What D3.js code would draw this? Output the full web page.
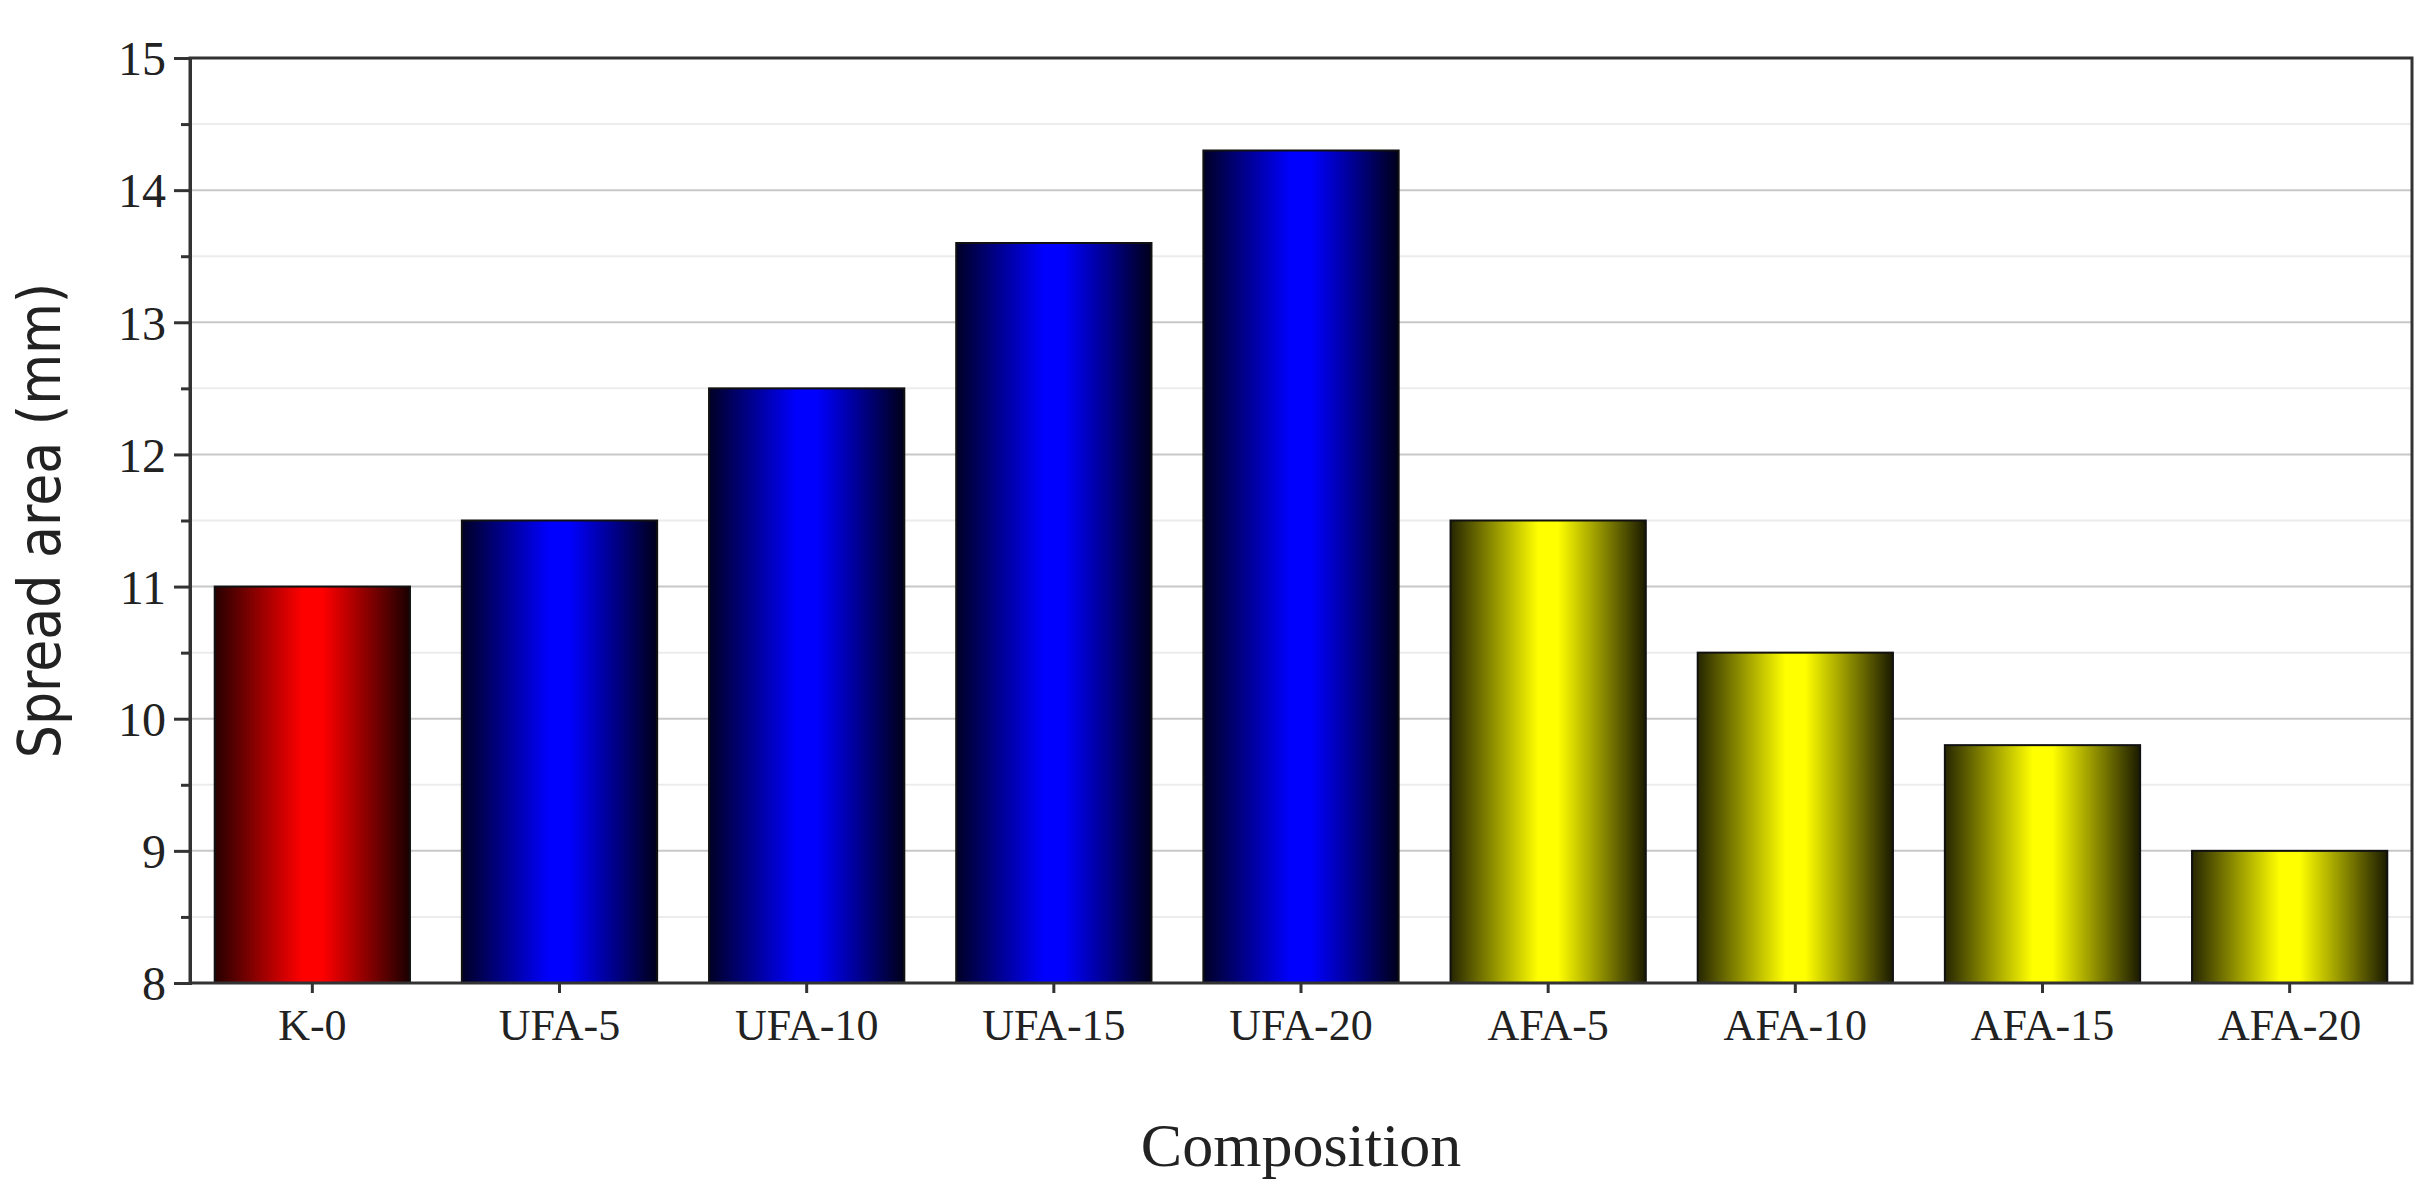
<!DOCTYPE html>
<html>
<head>
<meta charset="utf-8">
<script src="https://cdn.jsdelivr.net/npm/d3@7"></script>
<style>
  body { margin: 0; background: #fff; }
  text { font-family: "Liberation Serif", "DejaVu Serif", serif; fill: #222; }
</style>
</head>
<body>
<svg id="chart" width="2430" height="1200"></svg>
<script>
const categories = ['K-0', 'UFA-5', 'UFA-10', 'UFA-15', 'UFA-20', 'AFA-5', 'AFA-10', 'AFA-15', 'AFA-20'];
const values = [11.0, 11.5, 12.5, 13.6, 14.3, 11.5, 10.5, 9.8, 9.0];
const groups = ['red', 'blue', 'blue', 'blue', 'blue', 'yellow', 'yellow', 'yellow', 'yellow'];
const yTicks = [8, 9, 10, 11, 12, 13, 14, 15];
const yMinor = [8.5, 9.5, 10.5, 11.5, 12.5, 13.5, 14.5];

const svg = d3.select('#chart');
const margin = { top: 58, right: 18, bottom: 217, left: 190 };
const width = 2430 - margin.left - margin.right;
const height = 1200 - margin.top - margin.bottom;
const g = svg.append('g').attr('transform', `translate(${margin.left},${margin.top})`);

const x = d3.scaleBand().domain(categories).range([0, width]).paddingInner(0.21).paddingOuter(0.1);
const y = d3.scaleLinear().domain([8, 15]).range([height, 0]);

// gradients: dark edges, bright middle
const colors = { red: '#ff0000', blue: '#0000ff', yellow: '#ffff00' };
const defs = svg.append('defs');
Object.entries(colors).forEach(([k, c]) => {
  const gr = defs.append('linearGradient').attr('id', 'grad-' + k).attr('x1', 0).attr('x2', 1).attr('y1', 0).attr('y2', 0);
  gr.append('stop').attr('offset', '0%').attr('stop-color', d3.interpolateRgb('#000', c)(0.15));
  gr.append('stop').attr('offset', '45%').attr('stop-color', c);
  gr.append('stop').attr('offset', '55%').attr('stop-color', c);
  gr.append('stop').attr('offset', '100%').attr('stop-color', d3.interpolateRgb('#000', c)(0.1));
});

// grid lines
g.selectAll('.minor').data(yMinor).enter().append('line')
  .attr('x1', 0).attr('x2', width).attr('y1', d => y(d)).attr('y2', d => y(d))
  .attr('stroke', '#ececec').attr('stroke-width', 2);
g.selectAll('.major').data(yTicks.slice(1, -1)).enter().append('line')
  .attr('x1', 0).attr('x2', width).attr('y1', d => y(d)).attr('y2', d => y(d))
  .attr('stroke', '#c8c8c8').attr('stroke-width', 2);

// bars
g.selectAll('.bar').data(values).enter().append('rect')
  .attr('x', (d, i) => x(categories[i]))
  .attr('y', d => y(d))
  .attr('width', x.bandwidth())
  .attr('height', d => height - y(d))
  .attr('fill', (d, i) => `url(#grad-${groups[i]})`)
  .attr('stroke', '#111').attr('stroke-width', 2);

// frame
g.append('rect').attr('width', width).attr('height', height)
  .attr('fill', 'none').attr('stroke', '#333').attr('stroke-width', 3);

// y axis
const yAxis = g.append('g').call(d3.axisLeft(y).tickValues(yTicks).tickFormat(d3.format('d')).tickSize(16).tickPadding(8));
yAxis.select('.domain').attr('stroke', '#333').attr('stroke-width', 3);
yAxis.selectAll('.tick line').attr('stroke', '#333').attr('stroke-width', 3);
yAxis.selectAll('text').style('font-size', '48px').attr('dy', '0.35em');
g.append('g').call(d3.axisLeft(y).tickValues(yMinor).tickFormat('').tickSize(9))
  .call(s => s.select('.domain').remove())
  .selectAll('.tick line').attr('stroke', '#333').attr('stroke-width', 3);

// x axis
const xAxis = g.append('g').attr('transform', `translate(0,${height})`)
  .call(d3.axisBottom(x).tickSize(10).tickPadding(16));
xAxis.select('.domain').remove();
xAxis.selectAll('.tick line').attr('stroke', '#333').attr('stroke-width', 3);
xAxis.selectAll('text').style('font-size', '44px');

// axis titles
svg.append('text').attr('x', margin.left + width / 2).attr('y', 1166)
  .attr('text-anchor', 'middle').style('font-size', '62px').text('Composition');
svg.append('text').attr('transform', `translate(60,${margin.top + height / 2}) rotate(-90)`)
  .attr('text-anchor', 'middle').style('font-size', '58px')
  .style('font-family', '"Liberation Sans Narrow", "DejaVu Sans Condensed", sans-serif')
  .text('Spread area (mm)');
</script>
</body>
</html>
